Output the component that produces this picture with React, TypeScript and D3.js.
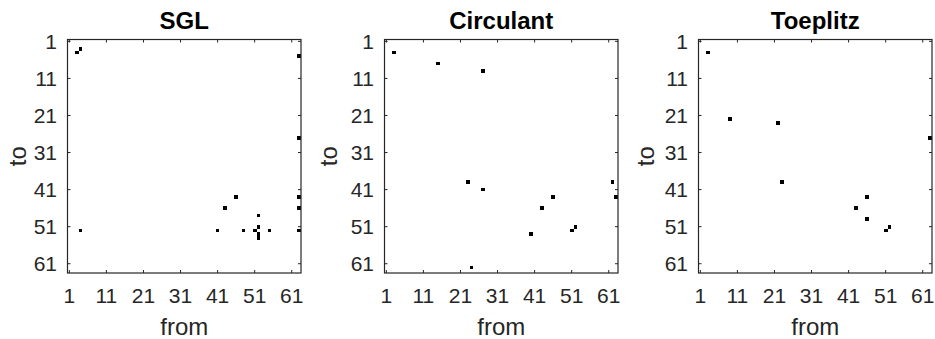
import React from "react";
import * as d3 from "d3";

// Data: [from, to] index pairs of nonzero entries
const titles = ["SGL", "Circulant", "Toeplitz"];
const sglCells: [number, number][] = [
  [4, 3], [3, 4], [63, 5], [63, 27], [4, 52], [46, 43], [43, 46], [52, 48],
  [41, 52], [48, 52], [52, 51], [51, 52], [52, 53], [52, 54], [55, 52],
  [63, 43], [63, 46], [63, 52],
];
const circulantCells: [number, number][] = [
  [3, 4], [15, 7], [27, 9], [23, 39], [27, 41], [46, 43], [43, 46], [40, 53],
  [51, 52], [52, 51], [24, 62], [62, 39], [63, 43],
];
const toeplitzCells: [number, number][] = [
  [3, 4], [9, 22], [22, 23], [63, 27], [23, 39], [46, 43], [43, 46], [46, 49],
  [51, 52], [52, 51],
];
const tickValues = [1, 11, 21, 31, 41, 51, 61];
const nNodes = 63;

const panelCells = [sglCells, circulantCells, toeplitzCells];
const panelLeft = [67.5, 384.5, 698.5];
const yLabelX = [25.5, 337, 653.5];
const boxTop = 39.5;
const boxSize = 233.5;
const axisColor = "#262626";
const font = "'Liberation Sans', Arial, Helvetica, sans-serif";

function Panel({ i }: { i: number }) {
  const left = panelLeft[i];
  const x = d3.scaleLinear().domain([0.5, nNodes + 0.5]).range([left, left + boxSize]);
  const y = d3.scaleLinear().domain([0.5, nNodes + 0.5]).range([boxTop, boxTop + boxSize]);
  const u = x(1.5) - x(0.5);
  const tl = 3;
  return (
    <g>
      {panelCells[i].map(([c, r], k) => (
        <rect key={k} x={x(c - 0.5)} y={y(r - 0.5)} width={u} height={u} fill="#000" shapeRendering="crispEdges" />
      ))}
      <rect x={left} y={boxTop} width={boxSize} height={boxSize} fill="none" stroke={axisColor} strokeWidth={1.2} />
      {tickValues.map((t) => (
        <g key={t} stroke={axisColor} strokeWidth={1}>
          <line x1={x(t)} x2={x(t)} y1={boxTop + boxSize} y2={boxTop + boxSize - tl} />
          <line x1={x(t)} x2={x(t)} y1={boxTop} y2={boxTop + tl} />
          <line x1={left} x2={left + tl} y1={y(t)} y2={y(t)} />
          <line x1={left + boxSize} x2={left + boxSize - tl} y1={y(t)} y2={y(t)} />
        </g>
      ))}
      {tickValues.map((t) => (
        <text key={"x" + t} x={x(t)} y={303} textAnchor="middle" fontSize={21} fill={axisColor} fontFamily={font}>
          {t}
        </text>
      ))}
      {tickValues.map((t) => (
        <text key={"y" + t} x={left - 10.5} y={y(t)} dy="0.35em" textAnchor="end" fontSize={21} fill={axisColor} fontFamily={font}>
          {t}
        </text>
      ))}
      <text x={left + boxSize / 2} y={29} textAnchor="middle" fontSize={24} fontWeight="bold" fill="#000" fontFamily={font}>
        {titles[i]}
      </text>
      <text x={left + boxSize / 2} y={335} textAnchor="middle" fontSize={24} fill={axisColor} fontFamily={font}>
        from
      </text>
      <text
        transform={`translate(${yLabelX[i]},${boxTop + boxSize / 2}) rotate(-90)`}
        textAnchor="middle"
        fontSize={24}
        fill={axisColor}
        fontFamily={font}
      >
        to
      </text>
    </g>
  );
}

export default function App() {
  return (
    <svg width={935} height={339} style={{ position: "absolute", left: 0, top: 0, background: "#fff" }}>
      <rect width={935} height={339} fill="#fff" />
      {[0, 1, 2].map((i) => (
        <Panel key={i} i={i} />
      ))}
    </svg>
  );
}
